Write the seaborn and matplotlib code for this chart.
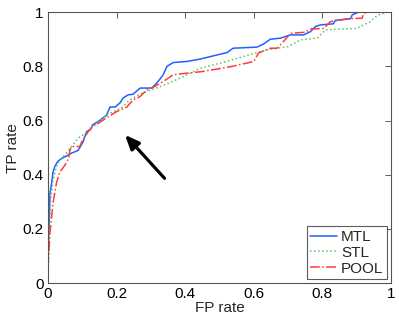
import matplotlib
matplotlib.use("Agg")
import matplotlib.pyplot as plt
import seaborn as sns
import pandas as pd

# ---- data ----
mtl_fp = [0.0, 0.0, 0.003, 0.006, 0.011, 0.015, 0.02, 0.029, 0.04, 0.055, 0.069, 0.079, 0.088,
          0.093, 0.102, 0.113, 0.123, 0.131, 0.146, 0.161, 0.171, 0.181, 0.196, 0.21, 0.219,
          0.234, 0.248, 0.269, 0.303, 0.321, 0.336, 0.347, 0.365, 0.405, 0.444, 0.522, 0.54,
          0.609, 0.628, 0.648, 0.677, 0.707, 0.745, 0.765, 0.78, 0.794, 0.832, 0.838, 0.882,
          0.887, 0.905, 1.0]
mtl_tp = [0.0, 0.1, 0.19, 0.33, 0.37, 0.41, 0.43, 0.45, 0.46, 0.47, 0.48, 0.485, 0.49,
          0.50, 0.52, 0.56, 0.565, 0.585, 0.596, 0.61, 0.62, 0.65, 0.65, 0.665, 0.683,
          0.695, 0.697, 0.72, 0.72, 0.744, 0.769, 0.80, 0.814, 0.818, 0.827, 0.851, 0.867,
          0.871, 0.882, 0.90, 0.904, 0.916, 0.916, 0.928, 0.947, 0.953, 0.957, 0.97, 0.976,
          0.99, 1.0, 1.0]

stl_fp = [0.0, 0.003, 0.008, 0.015, 0.025, 0.035, 0.05, 0.07, 0.088, 0.111, 0.127, 0.152,
          0.17, 0.214, 0.238, 0.272, 0.327, 0.385, 0.444, 0.52, 0.579, 0.639, 0.7, 0.737,
          0.785, 0.809, 0.9, 0.92, 0.94, 0.95, 0.97, 0.98, 0.985, 1.0]
stl_tp = [0.0, 0.15, 0.30, 0.38, 0.43, 0.455, 0.475, 0.505, 0.535, 0.555, 0.575, 0.60,
          0.62, 0.646, 0.676, 0.70, 0.725, 0.756, 0.793, 0.818, 0.84, 0.861, 0.873, 0.898,
          0.904, 0.935, 0.94, 0.953, 0.965, 0.978, 0.994, 0.996, 1.0, 1.0]

pool_fp = [0.0, 0.0, 0.006, 0.015, 0.025, 0.035, 0.05, 0.06, 0.064, 0.069, 0.093, 0.098,
           0.108, 0.118, 0.132, 0.147, 0.171, 0.2, 0.23, 0.248, 0.269, 0.288, 0.307, 0.336,
           0.357, 0.365, 0.405, 0.444, 0.493, 0.537, 0.6, 0.614, 0.648, 0.668, 0.682, 0.707,
           0.75, 0.765, 0.804, 0.823, 0.872, 0.916, 0.92, 0.93, 1.0]
pool_tp = [0.0, 0.05, 0.185, 0.295, 0.37, 0.41, 0.436, 0.46, 0.49, 0.504, 0.504, 0.52,
           0.54, 0.56, 0.58, 0.59, 0.61, 0.633, 0.65, 0.676, 0.689, 0.713, 0.723, 0.744,
           0.762, 0.769, 0.775, 0.78, 0.79, 0.80, 0.818, 0.849, 0.867, 0.867, 0.885, 0.922,
           0.926, 0.938, 0.94, 0.965, 0.975, 0.978, 0.996, 1.0, 1.0]

series_names = ["MTL", "STL", "POOL"]
x_ticks = [0, 0.2, 0.4, 0.6, 0.8, 1]
y_ticks = [0, 0.2, 0.4, 0.6, 0.8, 1]
tick_labels = ["0", "0.2", "0.4", "0.6", "0.8", "1"]

arrow_tail = (0.340, 0.387)
arrow_head = (0.225, 0.547)

# ---- figure ----
sns.set_style("white")
plt.rcParams["font.family"] = ["Liberation Sans", "DejaVu Sans"]

fig = plt.figure(figsize=(3.99, 3.20), dpi=100)
ax = fig.add_axes([0.120, 0.115, 0.860, 0.847])

styles = {
    "MTL": dict(color="#2060ff", linestyle="-", linewidth=1.1),
    "STL": dict(color="#5cc45c", linestyle=":", linewidth=1.1),
    "POOL": dict(color="#ff3b3b", linestyle="-.", linewidth=1.1),
}
data = {"MTL": (mtl_fp, mtl_tp), "STL": (stl_fp, stl_tp), "POOL": (pool_fp, pool_tp)}

for name in series_names:
    fp, tp = data[name]
    df = pd.DataFrame({"FP": fp, "TP": tp})
    sns.lineplot(data=df, x="FP", y="TP", ax=ax, sort=False, estimator=None,
                 label=name, **styles[name])

ax.annotate("", xy=arrow_head, xytext=arrow_tail,
            arrowprops=dict(arrowstyle="-|>,head_length=0.7,head_width=0.3",
                            color="black", lw=2.3,
                            mutation_scale=12, shrinkA=0, shrinkB=0))

ax.set_xlim(0, 1)
ax.set_ylim(0, 1)
ax.set_xticks(x_ticks)
ax.set_yticks(y_ticks)
ax.set_xticklabels(tick_labels)
ax.set_yticklabels(tick_labels)
ax.tick_params(direction="in", length=4, width=0.6, colors="#444444",
               labelcolor="black", labelsize=11, top=True, right=True, pad=3)
ax.set_xlabel("FP rate", fontsize=11, labelpad=0)
ax.set_ylabel("TP rate", fontsize=11, labelpad=2)
for sp in ax.spines.values():
    sp.set_visible(True)
    sp.set_color("#555555")
    sp.set_linewidth(0.8)

leg = ax.legend(loc="lower right", fontsize=11, frameon=True, fancybox=False,
                borderpad=0.25, handlelength=1.75, handletextpad=0.25, labelspacing=0.12,
                borderaxespad=0.25)
leg.get_frame().set_edgecolor("#333333")
leg.get_frame().set_linewidth(0.8)

fig.savefig("out.png", dpi=100)
